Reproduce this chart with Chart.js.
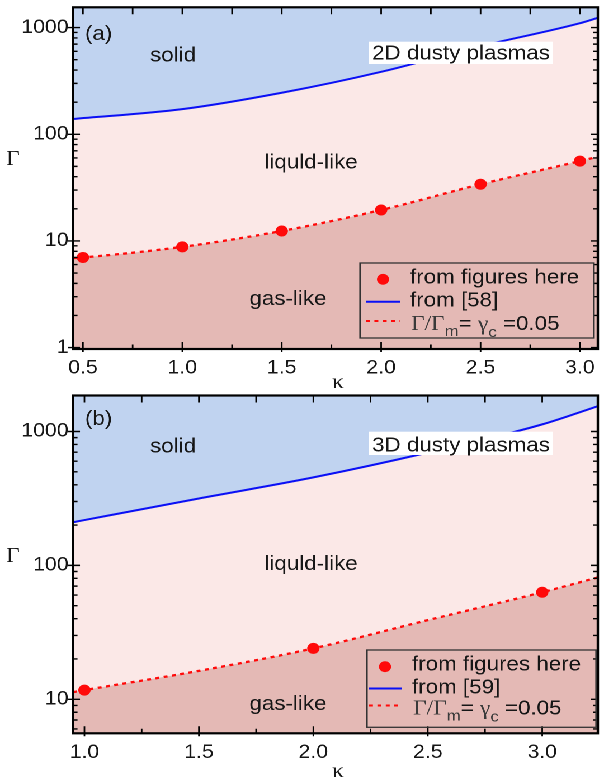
<!DOCTYPE html>
<html>
<head>
<meta charset="utf-8">
<script src="https://cdn.jsdelivr.net/npm/chart.js@4"></script>
<style>
  html, body { margin: 0; padding: 0; background: #fff; }
  #wrap { width: 540px; transform: scaleX(1.118519); transform-origin: 0 0; }
  canvas { display: block; }
</style>
</head>
<body>
<div id="wrap">
  <canvas id="cA"></canvas>
  <canvas id="cB"></canvas>
</div>
<script>
// ---------------- data: panel (a) 2D ----------------
const kappaTicksA = [0.5, 1.0, 1.5, 2.0, 2.5, 3.0];
const kappaMinorA = [0.75, 1.25, 1.75, 2.25, 2.75];
const gammaTicksA = [1, 10, 100, 1000];
const kappaDotsA = [0.5, 1.0, 1.5, 2.0, 2.5, 3.0];
const gammaDotsA = [7.0, 8.8, 12.4, 19.5, 34, 56];
const kappaMeltA = [0.45, 1.0, 1.5, 2.0, 2.5, 3.0, 3.09];
const gammaMeltA = [139, 172, 245, 385, 670, 1100, 1236];
const kappaCritA = [0.45, 0.5, 1.0, 1.5, 2.0, 2.5, 3.0, 3.09];
const gammaCritA = [6.9, 7.0, 8.8, 12.4, 19.5, 34, 56, 61.6];

// ---------------- data: panel (b) 3D ----------------
const kappaTicksB = [1.0, 1.5, 2.0, 2.5, 3.0];
const kappaMinorB = [1.25, 1.75, 2.25, 2.75];
const gammaTicksB = [10, 100, 1000];
const kappaDotsB = [1.0, 2.0, 3.0];
const gammaDotsB = [11.7, 24, 63];
const kappaMeltB = [0.95, 1.0, 1.5, 2.0, 2.5, 3.0, 3.24];
const gammaMeltB = [210, 218, 316, 454, 695, 1130, 1540];
const kappaCritB = [0.95, 1.0, 1.5, 2.0, 2.5, 3.0, 3.24];
const gammaCritB = [11.3, 11.7, 16.3, 24, 39, 63, 81];

const labelDots = 'from figures here';
const labelMeltA = 'from [58]';
const labelMeltB = 'from [59]';
const labelCrit = 'Γ/Γm= γc =0.05';

// ---------------- styling ----------------
const S = 604 / 540;               // horizontal stretch of the whole figure
const sx = v => v / S;             // screen x -> canvas x
const SANS = '"Liberation Sans", Arial, sans-serif';
const SERIF = '"Liberation Serif", "Times New Roman", serif';
const TXT = '#161616';
const BLUE_FILL = '#c0d3f0';
const LIQ_FILL = '#fbe8e7';
const GAS_FILL = '#e4b9b5';
const BLUE = '#0a10f5';
const RED = '#ff0a0a';

Chart.defaults.font.family = SANS;
Chart.defaults.color = TXT;

function pts(xs, ys) { return xs.map((x, i) => ({ x: x, y: ys[i] })); }

function logMinors(min, max) {
  const out = [];
  for (let d = Math.floor(Math.log10(min)); d <= Math.ceil(Math.log10(max)); d++) {
    for (let m = 2; m <= 9; m++) {
      const v = m * Math.pow(10, d);
      if (v > min && v < max) out.push(v);
    }
  }
  return out;
}

function makePanel(id, cfg) {
  const canvas = document.getElementById(id);
  canvas.width = 540; canvas.height = cfg.H;

  const frameTicks = {
    id: 'frameTicks',
    beforeDatasetsDraw(chart) {
      const a = chart.chartArea, ctx = chart.ctx;
      ctx.save();
      ctx.fillStyle = LIQ_FILL;
      ctx.fillRect(a.left, a.top, a.right - a.left, a.bottom - a.top);
      ctx.restore();
    },
    afterDatasetsDraw(chart) {
      const a = chart.chartArea, ctx = chart.ctx;
      const xs = chart.scales.x, ys = chart.scales.y;
      ctx.save();
      ctx.strokeStyle = '#000';
      ctx.lineWidth = 1.4;
      ctx.beginPath();
      const major = 7, minor = 4.5, out = 3;
      cfg.xTicks.forEach(v => {
        const p = xs.getPixelForValue(v);
        ctx.moveTo(p, a.bottom + out); ctx.lineTo(p, a.bottom - major);
        ctx.moveTo(p, a.top); ctx.lineTo(p, a.top + major);
      });
      cfg.xMinor.forEach(v => {
        const p = xs.getPixelForValue(v);
        ctx.moveTo(p, a.bottom); ctx.lineTo(p, a.bottom - minor);
        ctx.moveTo(p, a.top); ctx.lineTo(p, a.top + major);
      });
      cfg.yTicks.forEach(v => {
        const p = ys.getPixelForValue(v);
        ctx.moveTo(a.left - sx(5), p); ctx.lineTo(a.left + sx(major), p);
        ctx.moveTo(a.right, p); ctx.lineTo(a.right - sx(major), p);
      });
      logMinors(cfg.yMin, cfg.yMax).forEach(v => {
        const p = ys.getPixelForValue(v);
        ctx.moveTo(a.left, p); ctx.lineTo(a.left + sx(minor), p);
        ctx.moveTo(a.right, p); ctx.lineTo(a.right - sx(minor), p);
      });
      ctx.stroke();
      ctx.lineWidth = 2.2;
      ctx.strokeRect(a.left, a.top, a.right - a.left, a.bottom - a.top);
      ctx.restore();
    },
    afterDraw(chart) {
      const ctx = chart.ctx, oy = cfg.oy;
      ctx.save();
      ctx.fillStyle = TXT;
      ctx.textBaseline = 'alphabetic';
      const txt = (s, x, y, align, font) => {
        ctx.font = font; ctx.textAlign = align; ctx.fillText(s, sx(x), y - oy);
      };
      const F = '20px ' + SANS;
      txt(cfg.tag, 85, cfg.tagY, 'left', F);
      txt('solid', 173, cfg.solidY, 'center', F);
      // white label box
      ctx.fillStyle = '#fff';
      ctx.fillRect(sx(369), cfg.boxTop - oy, sx(553) - sx(369), cfg.boxBot - cfg.boxTop);
      ctx.fillStyle = TXT;
      txt(cfg.title, 461, cfg.titleY, 'center', F);
      txt('liquld-like', 311, cfg.liqY, 'center', F);
      txt('gas-like', 288, cfg.gasY, 'center', F);
      // axis titles
      txt('Γ', 13, cfg.gammaY, 'center', '21px ' + SERIF);
      txt('κ', 338, cfg.kappaY, 'center', '21px ' + SERIF);

      // legend
      const L = cfg.leg;
      ctx.strokeStyle = '#333';
      ctx.lineWidth = 1.3;
      ctx.strokeRect(sx(L.left), L.top - oy, sx(L.right) - sx(L.left), L.bottom - L.top);
      const dsDots = chart.data.datasets[2], dsMelt = chart.data.datasets[0], dsCrit = chart.data.datasets[1];
      // row 1: dot
      ctx.fillStyle = dsDots.pointBackgroundColor;
      ctx.beginPath(); ctx.arc(sx(L.dotX), L.r1 - 4 - oy, 5.4, 0, Math.PI * 2); ctx.fill();
      ctx.fillStyle = TXT;
      txt(dsDots.label, L.textX, L.r1, 'left', F);
      // row 2: blue line
      ctx.strokeStyle = dsMelt.borderColor; ctx.lineWidth = 2;
      ctx.beginPath(); ctx.moveTo(sx(L.lineX0), L.r2 - 5 - oy); ctx.lineTo(sx(L.lineX1), L.r2 - 5 - oy); ctx.stroke();
      txt(dsMelt.label, L.textX, L.r2, 'left', F);
      // row 3: red dashed
      ctx.strokeStyle = dsCrit.borderColor; ctx.lineWidth = 2;
      ctx.setLineDash(dsCrit.borderDash);
      ctx.beginPath(); ctx.moveTo(sx(L.lineX0), L.r3 - 9 - oy); ctx.lineTo(sx(L.lineX1), L.r3 - 9 - oy); ctx.stroke();
      ctx.setLineDash([]);
      // composite label Γ/Γm= γc =0.05
      let x = sx(L.textX + 1);
      const y = L.r3 - oy;
      ctx.textAlign = 'left';
      const put = (s, font, dy, color) => {
        ctx.font = font; ctx.fillStyle = color || TXT;
        ctx.fillText(s, x, y + dy); x += ctx.measureText(s).width;
      };
      put('Γ/Γ', '21px ' + SERIF, 0, '#3a3a3a');
      put('m', '15px ' + SANS, 6, '#3a3a3a');
      put('= ', '20px ' + SANS, 0);
      put('γ', '21px ' + SERIF, 0, '#3a3a3a');
      put('c', '15px ' + SANS, 7, '#3a3a3a');
      put(' =0.05', '20px ' + SANS, 0);
      ctx.restore();
    }
  };

  return new Chart(canvas, {
    type: 'line',
    data: {
      datasets: [
        {
          label: cfg.meltLabel, order: 1,
          data: pts(cfg.kMelt, cfg.gMelt),
          borderColor: BLUE, borderWidth: 2,
          backgroundColor: BLUE_FILL, fill: 'end',
          pointRadius: 0, cubicInterpolationMode: 'monotone'
        },
        {
          label: labelCrit, order: 2,
          data: pts(cfg.kCrit, cfg.gCrit),
          borderColor: RED, borderWidth: 2.3, borderDash: [3.5, 4],
          backgroundColor: GAS_FILL, fill: 'start',
          pointRadius: 0, cubicInterpolationMode: 'monotone'
        },
        {
          label: labelDots, order: 0,
          data: pts(cfg.kDots, cfg.gDots),
          showLine: false, pointRadius: 5.5, pointBorderWidth: 0,
          pointBackgroundColor: RED, pointBorderColor: RED
        }
      ]
    },
    options: {
      responsive: false, animation: false, devicePixelRatio: 2,
      layout: { padding: { left: 0, right: 540 - sx(600), top: cfg.top, bottom: 0 } },
      plugins: { legend: { display: false }, tooltip: { enabled: false } },
      scales: {
        x: {
          type: 'linear', min: cfg.xMin, max: cfg.xMax,
          grid: { display: false, drawTicks: false }, border: { display: false },
          afterBuildTicks: s => { s.ticks = cfg.xTicks.map(v => ({ value: v })); },
          afterFit: s => { s.height = cfg.H - cfg.bottom; s.paddingLeft = 0; s.paddingRight = 0; s.paddingTop = 0; s.paddingBottom = 0; },
          ticks: { callback: v => Number(v).toFixed(1), padding: 8, font: { size: 19 }, color: TXT, autoSkip: false, maxRotation: 0 }
        },
        y: {
          type: 'logarithmic', min: cfg.yMin, max: cfg.yMax,
          grid: { display: false, drawTicks: false }, border: { display: false },
          afterBuildTicks: s => { s.ticks = cfg.yTicks.map(v => ({ value: v })); },
          afterFit: s => { s.width = sx(73); s.paddingTop = 0; s.paddingBottom = 0; s.paddingLeft = 0; s.paddingRight = 0; },
          ticks: { callback: v => String(v), padding: 4, font: { size: 19 }, color: TXT, autoSkip: false }
        }
      }
    },
    plugins: [frameTicks]
  });
}

makePanel('cA', {
  H: 390, oy: 0, top: 7.3, bottom: 349,
  xMin: 0.45, xMax: 3.09, yMin: 0.97, yMax: 1550,
  xTicks: kappaTicksA, xMinor: kappaMinorA, yTicks: gammaTicksA,
  kMelt: kappaMeltA, gMelt: gammaMeltA, kCrit: kappaCritA, gCrit: gammaCritA,
  kDots: kappaDotsA, gDots: gammaDotsA, meltLabel: labelMeltA,
  tag: '(a)', tagY: 40, solidY: 61.7, boxTop: 41.7, boxBot: 64, title: '2D dusty plasmas', titleY: 59.3,
  liqY: 168.3, gasY: 305, gammaY: 165, kappaY: 388,
  leg: { left: 360, right: 594, top: 263, bottom: 338, dotX: 383, lineX0: 366, lineX1: 400, textX: 410, r1: 283.3, r2: 306.7, r3: 330 }
});

makePanel('cB', {
  H: 389, oy: 390, top: 4, bottom: 343.3,
  xMin: 0.95, xMax: 3.243, yMin: 5.57, yMax: 1857,
  xTicks: kappaTicksB, xMinor: kappaMinorB, yTicks: gammaTicksB,
  kMelt: kappaMeltB, gMelt: gammaMeltB, kCrit: kappaCritB, gCrit: gammaCritB,
  kDots: kappaDotsB, gDots: gammaDotsB, meltLabel: labelMeltB,
  tag: '(b)', tagY: 425, solidY: 452.7, boxTop: 431.7, boxBot: 455, title: '3D dusty plasmas', titleY: 451.7,
  liqY: 570, gasY: 710, gammaY: 562, kappaY: 777,
  leg: { left: 367, right: 596, top: 650, bottom: 727.3, dotX: 385, lineX0: 369, lineX1: 402, textX: 412, r1: 670.7, r2: 693.5, r3: 714.5 }
});
</script>
</body>
</html>
